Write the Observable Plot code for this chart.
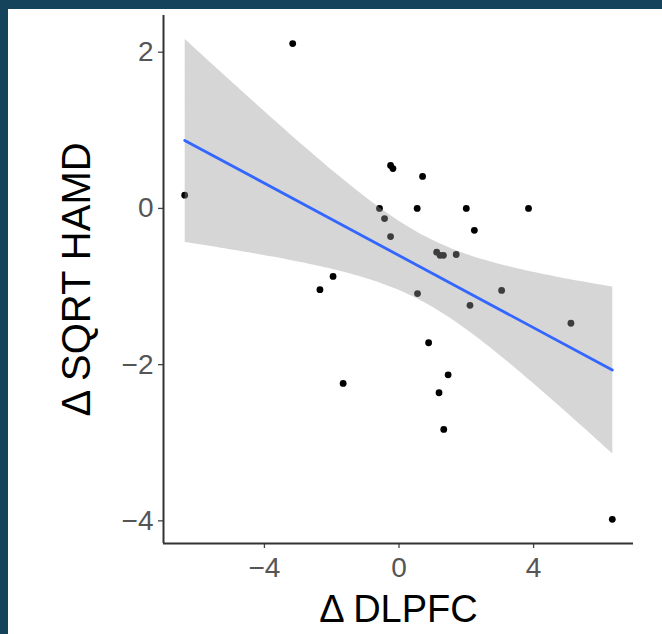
<!DOCTYPE html>
<html>
<head>
<meta charset="utf-8">
<script src="https://cdn.jsdelivr.net/npm/d3@7"></script>
<script src="https://cdn.jsdelivr.net/npm/@observablehq/plot@0.6"></script>
<style>
  html, body { margin: 0; padding: 0; }
  body { width: 662px; height: 634px; background: #14435b; position: relative; overflow: hidden; }
  #panel { position: absolute; left: 8px; top: 9px; width: 654px; height: 625px; background: #ffffff; }
</style>
</head>
<body>
<div id="panel"></div>
<script>
// Δ DLPFC (x) and Δ SQRT HAMD (y)
const dlpfc = [-3.16, -6.37, -0.25, -0.18, 0.70, -0.58, 0.54, 2.00, 3.85, -0.43,
               2.24, -0.25, 1.12, 1.22, 1.32, 1.70, -1.96, -2.35, 0.55, 3.05,
               2.11, 5.11, 0.88, -1.66, 1.46, 1.19, 1.33, 6.34];
const hamd  = [2.11, 0.17, 0.55, 0.51, 0.41, 0.00, 0.00, 0.00, 0.00, -0.13,
               -0.28, -0.36, -0.56, -0.60, -0.60, -0.59, -0.87, -1.04, -1.09, -1.05,
               -1.24, -1.47, -1.72, -2.24, -2.13, -2.36, -2.83, -3.98];

const xTicks = [-4, 0, 4];
const yTicks = [-4, -2, 0, 2];
const xDomain = [-7.0, 6.97];
const yDomain = [-4.29, 2.47];
const xTitle = "Δ DLPFC";
const yTitle = "Δ SQRT HAMD";

const data = dlpfc.map((x, i) => ({x, y: hamd[i]}));
const fmt = d => (d < 0 ? "\u2212" + Math.abs(d) : String(d));

const chart = Plot.plot({
  width: 654,
  height: 625,
  marginLeft: 155,
  marginRight: 29,
  marginTop: 6,
  marginBottom: 91,
  style: {fontFamily: "'Liberation Sans', Arial, Helvetica, sans-serif", fontSize: "28px", background: "#ffffff", color: "#000"},
  x: {domain: xDomain},
  y: {domain: yDomain},
  marks: [
    Plot.axisX(xTicks, {anchor: "bottom", tickSize: 5, tickPadding: 9, tickFormat: fmt, fontSize: 28, fill: "#555555", stroke: "#444444", strokeWidth: 1.3, label: null}),
    Plot.axisY(yTicks, {anchor: "left", tickSize: 5, tickPadding: 5, tickFormat: fmt, fontSize: 28, fill: "#555555", stroke: "#444444", strokeWidth: 1.3, label: null}),
    Plot.ruleX([xDomain[0]], {stroke: "#333333", strokeWidth: 2}),
    Plot.ruleY([yDomain[0]], {stroke: "#333333", strokeWidth: 2}),
    Plot.dot(data, {x: "x", y: "y", r: 3.4, fill: "#000000", stroke: null}),
    Plot.linearRegressionY(data, {x: "x", y: "y", ci: 0.95, stroke: "#3366FF", strokeWidth: 2.8, fill: "#999999", fillOpacity: 0.4}),
    Plot.text([xTitle], {text: d => d, frameAnchor: "bottom", dy: 66, fontSize: 38, fill: "#000000", textAnchor: "middle", lineAnchor: "middle"}),
    Plot.text([yTitle], {text: d => d, frameAnchor: "left", dx: -86, rotate: -90, fontSize: 40, fill: "#000000", textAnchor: "middle", lineAnchor: "middle"})
  ]
});
document.getElementById("panel").appendChild(chart);
</script>
</body>
</html>
